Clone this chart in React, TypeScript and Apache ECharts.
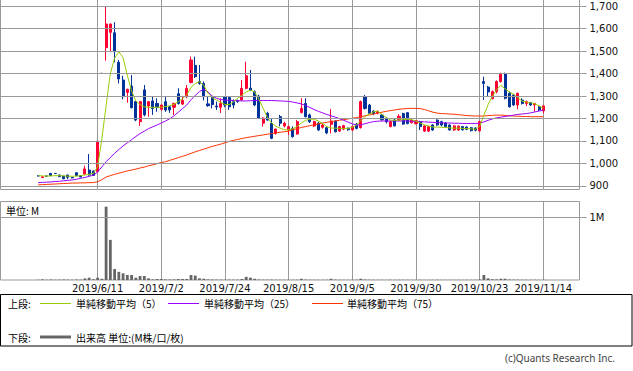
import React, { useEffect, useRef } from 'react';
import * as echarts from 'echarts';

// ---- categories (trading days, incl. empty days at both ends) ----
const categories: string[] = [
  '2019/5/9', '2019/5/10', '2019/5/13', '2019/5/14', '2019/5/15', '2019/5/16', '2019/5/17', '2019/5/20', '2019/5/21', '2019/5/22',
  '2019/5/23', '2019/5/24', '2019/5/27', '2019/5/28', '2019/5/29', '2019/5/30', '2019/5/31',
  '2019/6/3', '2019/6/4', '2019/6/5', '2019/6/6', '2019/6/7', '2019/6/10', '2019/6/11', '2019/6/12', '2019/6/13', '2019/6/14',
  '2019/6/17', '2019/6/18', '2019/6/19', '2019/6/20', '2019/6/21', '2019/6/24', '2019/6/25', '2019/6/26', '2019/6/27', '2019/6/28',
  '2019/7/1', '2019/7/2', '2019/7/3', '2019/7/4', '2019/7/5', '2019/7/8', '2019/7/9', '2019/7/10', '2019/7/11', '2019/7/12',
  '2019/7/16', '2019/7/17', '2019/7/18', '2019/7/19', '2019/7/22', '2019/7/23', '2019/7/24', '2019/7/25', '2019/7/26', '2019/7/29',
  '2019/7/30', '2019/7/31',
  '2019/8/1', '2019/8/2', '2019/8/5', '2019/8/6', '2019/8/7', '2019/8/8', '2019/8/9', '2019/8/13', '2019/8/14', '2019/8/15',
  '2019/8/16', '2019/8/19', '2019/8/20', '2019/8/21', '2019/8/22', '2019/8/23', '2019/8/26', '2019/8/27', '2019/8/28', '2019/8/29',
  '2019/8/30',
  '2019/9/2', '2019/9/3', '2019/9/4', '2019/9/5', '2019/9/6', '2019/9/9', '2019/9/10', '2019/9/11', '2019/9/12', '2019/9/13',
  '2019/9/17', '2019/9/18', '2019/9/19', '2019/9/20', '2019/9/24', '2019/9/25', '2019/9/26', '2019/9/27', '2019/9/30',
  '2019/10/1', '2019/10/2', '2019/10/3', '2019/10/4', '2019/10/7', '2019/10/8', '2019/10/9', '2019/10/10', '2019/10/11', '2019/10/15',
  '2019/10/16', '2019/10/17', '2019/10/18', '2019/10/21', '2019/10/23', '2019/10/24', '2019/10/25', '2019/10/28', '2019/10/29',
  '2019/10/30', '2019/10/31',
  '2019/11/1', '2019/11/5', '2019/11/6', '2019/11/7', '2019/11/8', '2019/11/11', '2019/11/12', '2019/11/13', '2019/11/14',
  '2019/11/15', '2019/11/18', '2019/11/19', '2019/11/20', '2019/11/21', '2019/11/22', '2019/11/25', '2019/11/26', '2019/11/27',
];

const firstDataDate = '2019/5/22';
const dateTicks = ['2019/6/11', '2019/7/2', '2019/7/24', '2019/8/15', '2019/9/5', '2019/9/30', '2019/10/23', '2019/11/14'];
const priceTicks = [900, 1000, 1100, 1200, 1300, 1400, 1500, 1600, 1700];
const volumeTicks = [1];

// [open, close, low, high]  from 2019/5/22 to 2019/11/14
const ohlc: number[][] = [
  [945, 945, 943, 947], [937, 941, 936, 942], [944, 944, 942, 946], [956, 946, 944, 957], [956, 955, 954, 957],
  [949, 941, 940, 950], [944, 932, 930, 945], [949, 939, 930, 950], [938, 936, 934, 939], [959, 946, 945, 960],
  [946, 940, 938, 948], [953, 976, 950, 990], [971, 949, 946, 1042], [967, 947, 945, 968], [964, 1099, 960, 1100],
  [1401, 1400, 1400, 1401], [1515, 1620, 1457, 1700], [1583, 1620, 1497, 1622], [1581, 1497, 1450, 1628], [1450, 1376, 1356, 1460],
  [1371, 1297, 1285, 1390], [1316, 1330, 1270, 1332], [1344, 1248, 1245, 1393], [1275, 1193, 1188, 1278], [1186, 1275, 1167, 1278],
  [1327, 1216, 1210, 1349], [1256, 1275, 1208, 1278], [1278, 1245, 1216, 1297], [1267, 1250, 1230, 1290], [1241, 1260, 1235, 1262],
  [1275, 1238, 1230, 1297], [1252, 1238, 1225, 1255], [1250, 1267, 1216, 1270], [1310, 1267, 1262, 1334], [1264, 1280, 1260, 1300],
  [1297, 1334, 1290, 1349], [1360, 1460, 1356, 1475], [1436, 1386, 1380, 1475], [1364, 1356, 1350, 1438], [1356, 1297, 1280, 1365],
  [1265, 1257, 1252, 1300], [1295, 1262, 1245, 1297], [1255, 1251, 1238, 1275], [1250, 1267, 1224, 1290], [1295, 1260, 1250, 1297],
  [1293, 1252, 1238, 1296], [1275, 1260, 1245, 1285], [1280, 1276, 1270, 1284], [1282, 1334, 1280, 1371], [1334, 1390, 1330, 1452],
  [1335, 1325, 1323, 1416], [1319, 1260, 1255, 1325], [1300, 1202, 1198, 1305], [1179, 1202, 1164, 1206], [1223, 1193, 1190, 1230],
  [1179, 1112, 1108, 1198], [1134, 1153, 1128, 1155], [1208, 1179, 1165, 1216], [1167, 1179, 1160, 1185], [1149, 1164, 1127, 1168],
  [1156, 1119, 1115, 1165], [1131, 1186, 1128, 1193], [1227, 1245, 1222, 1290], [1267, 1208, 1205, 1290], [1216, 1186, 1180, 1222],
  [1167, 1186, 1162, 1190], [1179, 1149, 1145, 1185], [1161, 1171, 1155, 1175], [1159, 1136, 1130, 1165], [1174, 1189, 1134, 1242],
  [1189, 1141, 1138, 1192], [1144, 1164, 1140, 1168], [1153, 1168, 1148, 1172], [1157, 1150, 1146, 1160], [1149, 1164, 1145, 1168],
  [1174, 1156, 1152, 1180], [1160, 1275, 1155, 1280], [1297, 1245, 1240, 1305], [1260, 1223, 1220, 1265], [1233, 1222, 1215, 1236],
  [1224, 1232, 1218, 1236], [1216, 1195, 1190, 1220], [1201, 1185, 1178, 1205], [1164, 1186, 1160, 1190], [1193, 1167, 1165, 1198],
  [1193, 1210, 1190, 1219], [1222, 1175, 1172, 1226], [1226, 1178, 1174, 1228], [1181, 1193, 1178, 1196], [1177, 1190, 1174, 1193],
  [1186, 1164, 1149, 1190], [1144, 1167, 1140, 1170], [1144, 1164, 1140, 1168], [1171, 1149, 1145, 1175], [1193, 1171, 1168, 1196],
  [1186, 1171, 1165, 1190], [1180, 1164, 1160, 1183], [1171, 1149, 1146, 1174], [1149, 1167, 1145, 1170], [1149, 1166, 1146, 1169],
  [1164, 1150, 1146, 1167], [1162, 1152, 1148, 1165], [1159, 1146, 1142, 1162], [1158, 1148, 1143, 1160], [1145, 1186, 1141, 1190],
  [1364, 1356, 1282, 1386], [1340, 1318, 1297, 1345], [1288, 1319, 1285, 1325], [1319, 1364, 1312, 1370], [1364, 1400, 1360, 1404],
  [1400, 1290, 1285, 1404], [1312, 1252, 1248, 1320], [1304, 1260, 1256, 1308], [1260, 1312, 1241, 1315], [1282, 1267, 1262, 1290],
  [1267, 1275, 1255, 1280], [1271, 1260, 1256, 1274], [1260, 1267, 1230, 1269], [1252, 1238, 1234, 1255], [1234, 1256, 1223, 1258],
];

// volume, in M (millions)
const volumes: number[] = [
  0.004, 0.01, 0.004, 0.008, 0.005, 0.006, 0.008, 0.006, 0.004, 0.008,
  0.006, 0.025, 0.037, 0.012, 0.037, 0.02, 1.17, 0.64, 0.175, 0.13,
  0.106, 0.08, 0.08, 0.037, 0.064, 0.064, 0.027, 0.01, 0.016, 0.016,
  0.01, 0.008, 0.01, 0.016, 0.016, 0.016, 0.08, 0.07, 0.027, 0.02,
  0.01, 0.008, 0.006, 0.006, 0.005, 0.006, 0.005, 0.005, 0.016, 0.05,
  0.037, 0.02, 0.008, 0.006, 0.005, 0.006, 0.005, 0.004, 0.004, 0.004,
  0.004, 0.005, 0.02, 0.006, 0.004, 0.004, 0.003, 0.003, 0.004, 0.02,
  0.006, 0.004, 0.003, 0.003, 0.004, 0.005, 0.02, 0.008, 0.005, 0.004,
  0.003, 0.004, 0.003, 0.004, 0.003, 0.004, 0.004, 0.004, 0.003, 0.003,
  0.004, 0.003, 0.003, 0.003, 0.004, 0.003, 0.003, 0.003, 0.003, 0.003,
  0.003, 0.003, 0.003, 0.003, 0.008, 0.08, 0.027, 0.012, 0.01, 0.02,
  0.02, 0.008, 0.006, 0.006, 0.004, 0.004, 0.003, 0.004, 0.003, 0.004,
];

const ma5: number[] = [
  946, 945, 944, 945, 946, 946, 945, 944, 943, 944,
  946, 949, 952, 956, 985, 1110, 1258, 1400, 1468, 1497,
  1470, 1392, 1322, 1278, 1262, 1252, 1250, 1250, 1250, 1250,
  1253, 1257, 1263, 1275, 1288, 1305, 1338, 1355, 1364, 1348,
  1312, 1293, 1282, 1272, 1262, 1262, 1274, 1290, 1304, 1318,
  1326, 1318, 1285, 1245, 1205, 1180, 1165, 1157, 1150, 1150,
  1155, 1165, 1180, 1192, 1197, 1197, 1189, 1178, 1164, 1158,
  1157, 1156, 1156, 1156, 1160, 1172, 1190, 1208, 1220, 1230,
  1232, 1218, 1204, 1193, 1192, 1193, 1195, 1196, 1195, 1188,
  1180, 1172, 1166, 1162, 1162, 1161, 1160, 1158, 1157, 1157,
  1156, 1155, 1154, 1152, 1165, 1215, 1262, 1298, 1328, 1347,
  1332, 1318, 1308, 1292, 1277, 1273, 1270, 1265, 1256, 1246,
];

const ma25: number[] = [
  915, 916, 917, 918, 920, 921, 923, 925, 927, 930,
  934, 938, 943, 948, 962, 985, 1008, 1027, 1045, 1062,
  1078, 1092, 1106, 1120, 1133, 1144, 1155, 1163, 1171, 1180,
  1189, 1199, 1212, 1228, 1244, 1260, 1283, 1303, 1320, 1330,
  1318, 1300, 1290, 1284, 1282, 1281, 1280, 1279, 1278, 1278,
  1279, 1280, 1280, 1280, 1280, 1280, 1279, 1278, 1277, 1276,
  1273, 1269, 1265, 1258, 1249, 1240, 1232, 1225, 1218, 1212,
  1206, 1199, 1192, 1184, 1176, 1171, 1172, 1177, 1182, 1186,
  1188, 1189, 1189, 1189, 1189, 1189, 1189, 1189, 1188, 1187,
  1186, 1185, 1184, 1183, 1182, 1181, 1180, 1180, 1179, 1179,
  1178, 1178, 1178, 1178, 1179, 1185, 1192, 1198, 1203, 1206,
  1209, 1212, 1215, 1218, 1220, 1222, 1225, 1229, 1233, 1237,
];

const ma75: number[] = [
  905, 906, 907, 908, 909, 910, 911, 912, 913, 913,
  914, 914, 915, 915, 919, 928, 940, 946, 952, 957,
  962, 967, 971, 975, 980, 984, 990, 994, 999, 1004,
  1008, 1014, 1020, 1026, 1032, 1038, 1045, 1052, 1058, 1064,
  1070, 1076, 1081, 1086, 1092, 1098, 1103, 1107, 1111, 1115,
  1118, 1121, 1124, 1127, 1130, 1133, 1136, 1139, 1141, 1144,
  1150, 1155, 1160, 1164, 1168, 1172, 1176, 1180, 1183, 1186,
  1189, 1192, 1195, 1198, 1201, 1204, 1208, 1212, 1216, 1220,
  1224, 1228, 1232, 1235, 1238, 1241, 1243, 1245, 1245, 1245,
  1244, 1240, 1234, 1228, 1224, 1222, 1221, 1220, 1219, 1217,
  1215, 1213, 1212, 1211, 1211, 1211, 1213, 1214, 1215, 1215,
  1214, 1212, 1211, 1210, 1209, 1209, 1208, 1208, 1208, 1208,
];

const UP = '#ff0033';
const DOWN = '#003399';
const GRID = '#999999';
const C_MA5 = '#99cc00';
const C_MA25 = '#9900ff';
const C_MA75 = '#ff3300';
const C_VOL = '#666666';
const JP = '"Noto Sans CJK JP", "Noto Sans", sans-serif';
const NUM = '"DejaVu Sans", sans-serif';

export default function App() {
  const ref = useRef<HTMLDivElement>(null);

  useEffect(() => {
    if (!ref.current) return;
    const chart = echarts.init(ref.current, null, { renderer: 'svg' });
    const offset = categories.indexOf(firstDataDate);
    const pad = (arr: any[]) =>
      categories.map((_, i) => {
        const j = i - offset;
        return j >= 0 && j < arr.length ? arr[j] : '-';
      });
    const isTick = (_i: number, v: string) => dateTicks.includes(v);

    const hLines = (vals: number[]) => ({
      silent: true,
      symbol: ['none', 'none'],
      label: { show: false },
      lineStyle: { color: GRID, width: 1, type: 'solid' },
      emphasis: { disabled: true },
      data: vals.map((v) => ({ yAxis: v })),
    });

    const legendLine = (x1: number, x2: number, y: number, color: string, w: number) => ({
      type: 'line',
      silent: true,
      shape: { x1, y1: y, x2, y2: y },
      style: { stroke: color, lineWidth: w },
    });
    const txt = (x: number, y: number, text: string, font: string, fill = '#000', align = 'left') => ({
      type: 'text',
      silent: true,
      x,
      y,
      style: { text, font, fill, align, verticalAlign: 'middle' },
    });

    const option: any = {
      animation: false,
      backgroundColor: '#ffffff',
      grid: [
        { left: -0.4, top: 0, width: 581.9, height: 190 },
        { left: -0.4, top: 201, width: 581.9, height: 79 },
      ],
      xAxis: [
        {
          type: 'category',
          gridIndex: 0,
          data: categories,
          boundaryGap: false,
          axisLine: { show: false },
          axisTick: { show: false },
          axisLabel: { show: false },
          splitLine: { show: true, interval: isTick, lineStyle: { color: GRID, width: 1 } },
        },
        {
          type: 'category',
          gridIndex: 1,
          data: categories,
          boundaryGap: false,
          axisLine: { show: false },
          axisTick: { show: false },
          axisLabel: {
            show: true,
            interval: isTick,
            fontSize: 10,
            fontFamily: NUM,
            color: '#111',
            margin: 3,
          },
          splitLine: { show: true, interval: isTick, lineStyle: { color: GRID, width: 1 } },
        },
      ],
      yAxis: [
        {
          type: 'value',
          gridIndex: 0,
          position: 'right',
          min: 882.22,
          max: 1726.67,
          splitLine: { show: false },
          axisLine: { show: false },
          axisTick: { show: true, length: 5, customValues: priceTicks, lineStyle: { color: GRID } },
          axisLabel: {
            customValues: priceTicks,
            fontSize: 10,
            fontFamily: NUM,
            color: '#111',
            margin: 8,
            formatter: (v: number) => v.toLocaleString('en-US'),
          },
        },
        {
          type: 'value',
          gridIndex: 1,
          position: 'right',
          min: 0,
          max: 1.26,
          splitLine: { show: false },
          axisLine: { show: false },
          axisTick: { show: true, length: 5, customValues: volumeTicks, lineStyle: { color: GRID } },
          axisLabel: {
            customValues: volumeTicks,
            fontSize: 10,
            fontFamily: NUM,
            color: '#111',
            margin: 8,
            formatter: (v: number) => (v === 1 ? '1M' : ''),
          },
        },
      ],
      series: [
        { type: 'line', xAxisIndex: 0, yAxisIndex: 0, data: [], z: 1, markLine: hLines(priceTicks) },
        { type: 'line', xAxisIndex: 1, yAxisIndex: 1, data: [], z: 1, markLine: hLines(volumeTicks) },
        {
          type: 'candlestick',
          xAxisIndex: 0,
          yAxisIndex: 0,
          data: pad(ohlc),
          barWidth: 2.6,
          z: 2,
          itemStyle: {
            color: UP,
            color0: DOWN,
            borderColor: UP,
            borderColor0: DOWN,
            borderColorDoji: DOWN,
            borderWidth: 1,
          },
        },
        {
          type: 'line', xAxisIndex: 0, yAxisIndex: 0, data: pad(ma75), z: 3,
          showSymbol: false, symbol: 'none', lineStyle: { color: C_MA75, width: 1 },
        },
        {
          type: 'line', xAxisIndex: 0, yAxisIndex: 0, data: pad(ma25), z: 3,
          showSymbol: false, symbol: 'none', lineStyle: { color: C_MA25, width: 1 },
        },
        {
          type: 'line', xAxisIndex: 0, yAxisIndex: 0, data: pad(ma5), z: 3,
          showSymbol: false, symbol: 'none', lineStyle: { color: C_MA5, width: 1 },
        },
        {
          type: 'bar', xAxisIndex: 1, yAxisIndex: 1, data: pad(volumes), z: 2,
          barWidth: 2.8, itemStyle: { color: C_VOL }, clip: false,
        },
      ],
      graphic: [
        { type: 'rect', silent: true, shape: { x: 0.5, y: -1, width: 579, height: 190.5 }, style: { fill: 'none', stroke: GRID, lineWidth: 1 } },
        { type: 'rect', silent: true, shape: { x: 0.5, y: 201.5, width: 579, height: 78.5 }, style: { fill: 'none', stroke: GRID, lineWidth: 1 } },
        txt(6, 210, '単位: M', `10px ${JP}`),
        { type: 'rect', silent: true, shape: { x: 0.5, y: 294.5, width: 631.5, height: 51.5 }, style: { fill: 'none', stroke: '#000', lineWidth: 1 } },
        txt(8, 303.5, '上段:', `10px ${JP}`),
        legendLine(40, 71, 303.5, C_MA5, 1),
        txt(76, 303.5, '単純移動平均（5）', `10px ${JP}`),
        legendLine(168, 199, 303.5, C_MA25, 1),
        txt(204, 303.5, '単純移動平均（25）', `10px ${JP}`),
        legendLine(312, 343, 303.5, C_MA75, 1),
        txt(347, 303.5, '単純移動平均（75）', `10px ${JP}`),
        txt(8, 337, '下段:', `10px ${JP}`),
        legendLine(40, 71, 337, C_VOL, 3),
        txt(76, 337, '出来高 単位:(M株/口/枚)', `10px ${JP}`),
        txt(615, 358, '(c)Quants Research Inc.', `10px "Noto Sans", sans-serif`, '#444', 'right'),
      ],
    };

    chart.setOption(option);
    return () => chart.dispose();
  }, []);

  return (
    <div
      ref={ref}
      style={{ position: 'fixed', left: 0, top: 0, width: 633, height: 371, background: '#fff' }}
    />
  );
}
